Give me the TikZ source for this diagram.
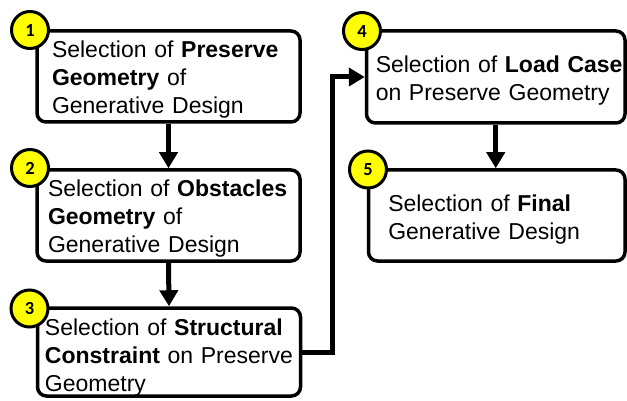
\documentclass[tikz,border=0pt]{standalone}
\usepackage{fontspec}
\setmainfont{Liberation Sans}
\newfontfamily\badgefont{Carlito}
\usetikzlibrary{arrows.meta, positioning}
\definecolor{badgeyellow}{HTML}{FFFF00}

\begin{document}
\begin{tikzpicture}[x=1pt, y=-1pt,
    stage/.style={draw=black, line width=3.5pt, rounded corners=9pt, fill=white,
      minimum width=263pt, minimum height=91pt, inner xsep=0pt, inner ysep=0pt,
      align=left, font=\fontsize{23}{28}\selectfont,
      execute at begin node={\rule{0pt}{#1}}},
    stage/.default=23pt,
    badge/.style={circle, draw=black, line width=3pt, fill=badgeyellow,
      minimum size=37pt, inner sep=0pt,
      font=\badgefont\bfseries\fontsize{18.5}{18.5}\selectfont},
    arrow/.style={-{Triangle[length=16pt, width=18pt]}, line width=5pt},
]
\useasboundingbox (0,0) rectangle (627,401);
% left column
\node[stage, text width=233pt] (preserve) at (168.5, 76.5)
    {Selection of \textbf{Preserve}\\\textbf{Geometry} of\\Generative Design};
\node[stage, text width=241pt] (obstacles) at (168.5, 215.5)
    {\mbox{Selection of \textbf{Obstacles}}\\\textbf{Geometry} of\\Generative Design};
\node[stage=27pt, text width=248pt, minimum height=88pt] (structural) at (169, 352)
    {Selection of \textbf{Structural}\\\mbox{\textbf{Constraint} on Preserve}\\Geometry};
% right column
\node[stage=24pt, text width=240pt, minimum width=258.5pt, minimum height=92pt] (loadcase) at (495.75, 77)
    {\mbox{Selection of \textbf{Load Case}}\\on Preserve Geometry};
\node[stage=25pt, text width=217pt, minimum width=256.5pt] (final) at (496.75, 215.5)
    {Selection of \textbf{Final}\\Generative Design};
% step numbers
\node[badge] (b1) at (30, 30) {1};
\node[badge] (b2) at (30, 168) {2};
\node[badge] (b3) at (29.5, 308.5) {3};
\node[badge] (b4) at (362, 31) {4};
\node[badge] (b5) at (368, 169.5) {5};
% flow
\draw[arrow] (preserve.south) -- (obstacles.north);
\draw[arrow] (obstacles.south) -- (structural.north);
\draw[arrow] (structural.east) -- ++(30,0) |- (loadcase.west);
\draw[arrow] (loadcase.south) -- (loadcase.south |- final.north);
\end{tikzpicture}
\end{document}
